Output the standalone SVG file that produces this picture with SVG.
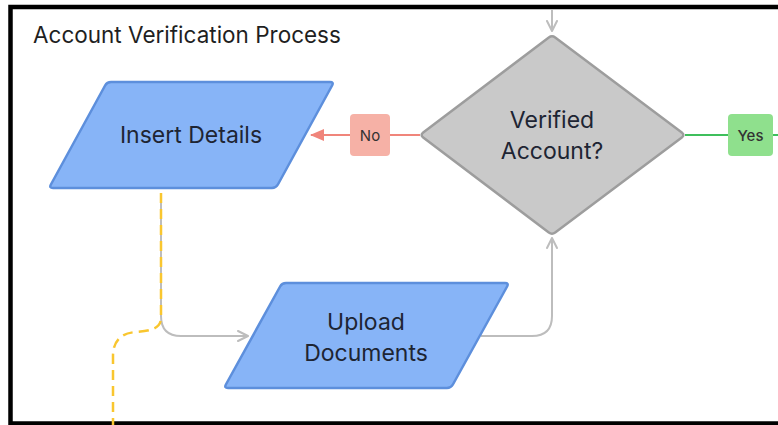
<svg xmlns="http://www.w3.org/2000/svg" width="778" height="425" viewBox="0 0 778 425">
<defs>
<style>
.frame{fill:#ffffff;stroke:#000000;stroke-width:4.5}
.title{font-family:Inter,"Noto Sans",sans-serif;font-size:22.5px;fill:#1f1f1f}
.para{fill:#87b4f7;stroke:#5d8fdc;stroke-width:2.5;stroke-linejoin:round}
.dia{fill:#c9c9c9;stroke:#9d9d9d;stroke-width:2.5;stroke-linejoin:round}
.lbl{font-family:Inter,"Noto Sans",sans-serif;font-size:23px;fill:#1e2533;text-anchor:middle}
.small{font-family:Inter,"Noto Sans",sans-serif;font-size:15px;fill:#333333;text-anchor:middle}
.gray{fill:none;stroke:#bdbdbd;stroke-width:2}
.red{fill:none;stroke:#f0857b;stroke-width:2}
.green{fill:none;stroke:#3fbf5c;stroke-width:2}
.yellow{fill:none;stroke:#f9c62f;stroke-width:2.5;stroke-dasharray:10 6}
</style>
<marker id="open" viewBox="0 0 12 12" refX="11" refY="6" markerWidth="12" markerHeight="12" markerUnits="userSpaceOnUse" orient="auto">
<path d="M1,1 L11,6 L1,11" fill="none" stroke="#bdbdbd" stroke-width="2" stroke-linecap="round" stroke-linejoin="round"/>
</marker>
<marker id="redhead" viewBox="0 0 14 12" refX="13" refY="6" markerWidth="14" markerHeight="12" markerUnits="userSpaceOnUse" orient="auto">
<path d="M0,0 L14,6 L0,12 Z" fill="#f0857b"/>
</marker>
</defs>
<rect class="frame" x="10.5" y="7" width="800" height="416.5"/>
<text class="title" x="33" y="43">Account Verification Process</text>
<g id="connectors">
<path class="gray" d="M552,9 V31" marker-end="url(#open)"/>
<path class="red" d="M420,135 H390"/>
<path class="red" d="M350,135 H311" marker-end="url(#redhead)"/>
<path class="green" d="M685,135 H728"/>
<path class="green" d="M773,135 H778"/>
<path class="gray" d="M161,193 V316 Q161,336 181,336 H248" marker-end="url(#open)"/>
<path class="gray" d="M481,336 H532 Q552,336 552,316 V238" marker-end="url(#open)"/>
<path class="yellow" d="M161,193 V318 C161,330 147,331 136,332 C121,333 113,341 113,356 V425"/>
</g>
<g id="insert-details">
<path class="para" d="M111,82 H330 Q334,82 332.1,85.5 L277.9,184.5 Q276,188 272,188 H53 Q49,188 50.9,184.5 L105.1,85.5 Q107,82 111,82 Z"/>
<text class="lbl" x="191" y="143">Insert Details</text>
</g>
<g id="label-no">
<rect x="350" y="114" width="40" height="42" rx="4" fill="#f6b1a6"/>
<text class="small" x="370" y="140.5">No</text>
</g>
<g id="verified-account">
<path class="dia" d="M548.8,37.4 Q552,35 555.2,37.4 L681.8,132.6 Q685,135 681.8,137.4 L555.2,232.6 Q552,235 548.8,232.6 L423.2,137.4 Q420,135 423.2,132.6 Z"/>
<text class="lbl" x="552" y="128">Verified</text>
<text class="lbl" x="552" y="159">Account?</text>
</g>
<g id="label-yes">
<rect x="728" y="114" width="45" height="42" rx="4" fill="#8fe08d"/>
<text class="small" x="750.5" y="140.5" font-weight="500">Yes</text>
</g>
<g id="upload-documents">
<path class="para" d="M286,283 H505 Q509,283 507.1,286.5 L452.9,384.5 Q451,388 447,388 H228 Q224,388 225.9,384.5 L280.1,286.5 Q282,283 286,283 Z"/>
<text class="lbl" x="366" y="330">Upload</text>
<text class="lbl" x="366" y="361">Documents</text>
</g>
</svg>
